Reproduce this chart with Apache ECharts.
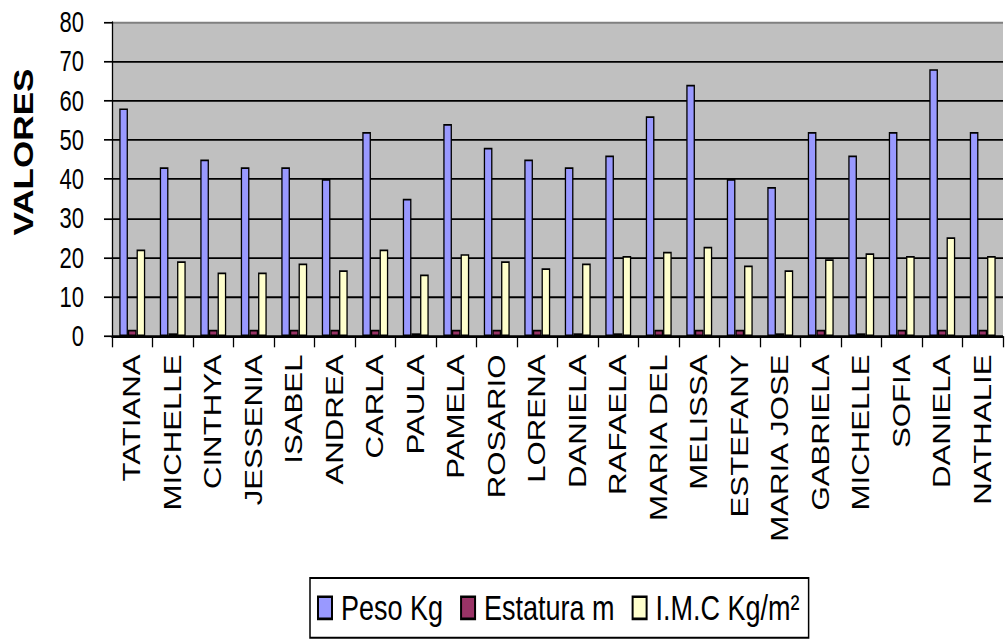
<!DOCTYPE html>
<html>
<head>
<meta charset="utf-8">
<script src="https://cdn.jsdelivr.net/npm/echarts@6/dist/echarts.min.js"></script>
<style>
  html { overflow: hidden; }
  html, body { margin: 0; padding: 0; background: #fff; width: 1005px; height: 640px; }
  /* chart is laid out at 492px tall and stretched to the 640px page height */
  #chart { width: 1005px; height: 492px; transform: scaleY(1.30081); transform-origin: 0 0; }
</style>
</head>
<body>
<div id="chart"></div>
<script>
// Students
const nombres = ['TATIANA', 'MICHELLE', 'CINTHYA', 'JESSENIA', 'ISABEL', 'ANDREA', 'CARLA',
  'PAULA', 'PAMELA', 'ROSARIO', 'LORENA', 'DANIELA', 'RAFAELA', 'MARIA DEL', 'MELISSA',
  'ESTEFANY', 'MARIA JOSE', 'GABRIELA', 'MICHELLE', 'SOFIA', 'DANIELA', 'NATHALIE'];

// Weight (kg)
const peso = [58, 43, 45, 43, 43, 40, 52, 35, 54, 48, 45, 43, 46, 56, 64, 40, 38, 52, 46, 52, 68, 52];

// Height (m)
const estatura = [1.65, 0.75, 1.65, 1.65, 1.65, 1.65, 1.65, 0.75, 1.65, 1.65, 1.65, 0.75, 0.75, 1.65,
  1.65, 1.65, 0.75, 1.65, 0.75, 1.65, 1.65, 1.65];

// Body mass index (kg/m²)
const imc = [22.1, 19.1, 16.2, 16.2, 18.5, 16.8, 22.1, 15.7, 20.9, 19.1, 17.3, 18.5, 20.4, 21.5,
  22.8, 18.0, 16.8, 19.6, 21.1, 20.4, 25.2, 20.4];

const serieNames = ['Peso Kg', 'Estatura m', 'I.M.C Kg/m²'];
const serieColors = ['#9999FF', '#993366', '#FFFFCC'];

const FONT = '"Liberation Sans", Arial, sans-serif';

const chart = echarts.init(document.getElementById('chart'), null, { renderer: 'svg' });

const valores = [peso, estatura, imc];

chart.setOption({
  animation: false,
  backgroundColor: '#ffffff',
  grid: {
    left: 112, right: 2, top: 16.9, bottom: 233.5,
    show: true, backgroundColor: '#C0C0C0', borderWidth: 0
  },
  legend: {
    show: true,
    data: serieNames,
    left: 310, top: 444.3,
    orient: 'horizontal',
    icon: 'rect',
    itemWidth: 14, itemHeight: 17, itemGap: 17,
    padding: [8, 9, 8, 7],
    borderColor: '#000000', borderWidth: 1.5, borderRadius: 0,
    backgroundColor: '#ffffff',
    textStyle: { fontFamily: FONT, fontSize: 27, color: '#000', lineHeight: 30, padding: [0, 0, 0, 4] }
  },
  xAxis: {
    type: 'category',
    data: nombres,
    axisLine: { lineStyle: { color: '#000', width: 1.5 } },
    axisTick: { show: true, length: 8.5, lineStyle: { color: '#000', width: 1.3 } },
    axisLabel: {
      interval: 0, rotate: 90, margin: 14,
      fontFamily: FONT, fontSize: 24, color: '#000'
    },
    splitLine: { show: false }
  },
  yAxis: {
    type: 'value',
    min: 0, max: 80, interval: 10,
    axisLine: { show: true, lineStyle: { color: '#000', width: 1.3 } },
    axisTick: { show: true, length: 8, lineStyle: { color: '#000', width: 1.3 } },
    axisLabel: { margin: 28, fontFamily: FONT, fontSize: 22, color: '#000' },
    splitLine: {
      show: true,
      lineStyle: {
        width: 1.4,
        color: ['#000', '#000', '#000', '#000', '#000', '#000', '#000', '#000', '#808080']
      }
    }
  },
  graphic: [{
    type: 'text',
    x: 24, y: 116.9,
    rotation: Math.PI / 2,
    style: {
      text: 'VALORES',
      fontFamily: FONT, fontSize: 27, fontWeight: 'bold',
      fill: '#000', align: 'center', verticalAlign: 'middle'
    }
  }],
  series: serieNames.map((name, i) => ({
    name: name,
    type: 'bar',
    data: valores[i],
    barGap: '0%',
    barCategoryGap: '36%',
    itemStyle: { color: serieColors[i], borderColor: '#000', borderWidth: 1.3 }
  }))
});
</script>
</body>
</html>
